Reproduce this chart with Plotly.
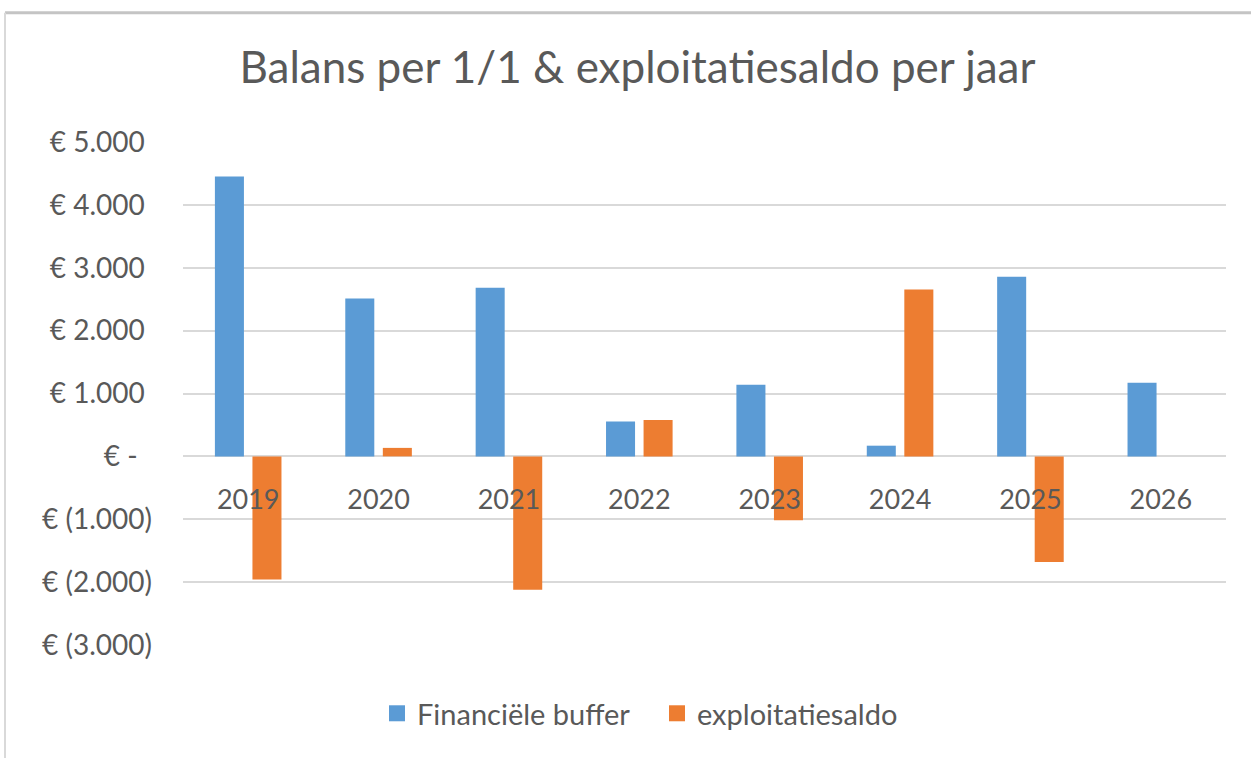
import plotly.graph_objects as go

# ---- data ----
years = ["2019", "2020", "2021", "2022", "2023", "2024", "2025", "2026"]
financiele_buffer = [4450, 2510, 2680, 555, 1140, 170, 2855, 1170]
exploitatiesaldo = [-1960, 135, -2120, 580, -1015, 2655, -1680, None]

ytick_vals = [5000, 4000, 3000, 2000, 1000, 0, -1000, -2000, -3000]
NB = "\u00a0"
ytick_labels = [
    "€ 5.000" + NB, "€ 4.000" + NB, "€ 3.000" + NB, "€ 2.000" + NB, "€ 1.000" + NB,
    "€ -" + NB * 2,
    "€ (1.000)", "€ (2.000)", "€ (3.000)",
]

series_names = ["Financiële buffer", "exploitatiesaldo"]
series_colors = ["#5B9BD5", "#ED7D31"]

FONT = "Lato"
TXT = "#595959"
GRID = "#D9D9D9"

fig = go.Figure()
for name, vals, col in zip(series_names, [financiele_buffer, exploitatiesaldo], series_colors):
    fig.add_trace(go.Bar(x=years, y=vals, name=name, legendgroup=name, showlegend=False,
                         marker=dict(color=col, line=dict(width=0))))
# legend entries with larger square swatches
for name, col in zip(series_names, series_colors):
    fig.add_trace(go.Scatter(x=[None], y=[None], mode="markers", name=name, legendgroup=name,
                             marker=dict(symbol="square", size=16, color=col),
                             hoverinfo="skip"))

# plot area in pixels: x 183..1226, y 142..645.5
W, H = 1251, 758
L, R, T, B = 183, 1226, 142, 645.5

def px_x(p):
    return (p - L) / (R - L)

def px_y(p):
    return (B - p) / (B - T)

fig.update_layout(
    width=W, height=H,
    margin=dict(l=L, r=W - R, t=T, b=H - B, pad=0),
    paper_bgcolor="white", plot_bgcolor="white",
    barmode="group", bargap=0.424, bargroupgap=0.227,
    font=dict(family=FONT, color=TXT, size=27),
    title=dict(text="Balans per 1/1 &amp; exploitatiesaldo per jaar",
               font=dict(family=FONT, size=44, color=TXT),
               xref="container", yref="container",
               x=637.5 / W, xanchor="center", y=1 - 68 / H, yanchor="middle"),
    legend=dict(orientation="h", x=px_x(657), xanchor="center",
                y=px_y(714), yanchor="middle",
                font=dict(family=FONT, size=29, color=TXT),
                itemsizing="trace", entrywidth=235,
                bgcolor="rgba(0,0,0,0)", traceorder="normal"),
    xaxis=dict(type="category", showgrid=False, showline=False, zeroline=False,
               ticks="", anchor="free", position=3000 / 8000,
               tickfont=dict(family=FONT, size=27, color=TXT),
               ticklabelstandoff=25),
    yaxis=dict(range=[-3000, 5000], tickvals=ytick_vals, ticktext=ytick_labels,
               showgrid=True, gridcolor=GRID, gridwidth=2,
               zeroline=True, zerolinecolor=GRID, zerolinewidth=2,
               showline=False, ticks="",
               tickfont=dict(family=FONT, size=28, color=TXT),
               ticklabelstandoff=30),
    shapes=[
        dict(type="line", xref="paper", yref="paper",
             x0=px_x(5), x1=px_x(1260), y0=px_y(12.5), y1=px_y(12.5),
             line=dict(color="#C4C4C4", width=3)),
        dict(type="line", xref="paper", yref="paper",
             x0=px_x(5), x1=px_x(5), y0=px_y(12.5), y1=px_y(770),
             line=dict(color="#D9D9D9", width=2)),
    ],
)

fig.write_html("out.html", config={"displayModeBar": False},
               post_script="document.body.style.margin='0px';")
